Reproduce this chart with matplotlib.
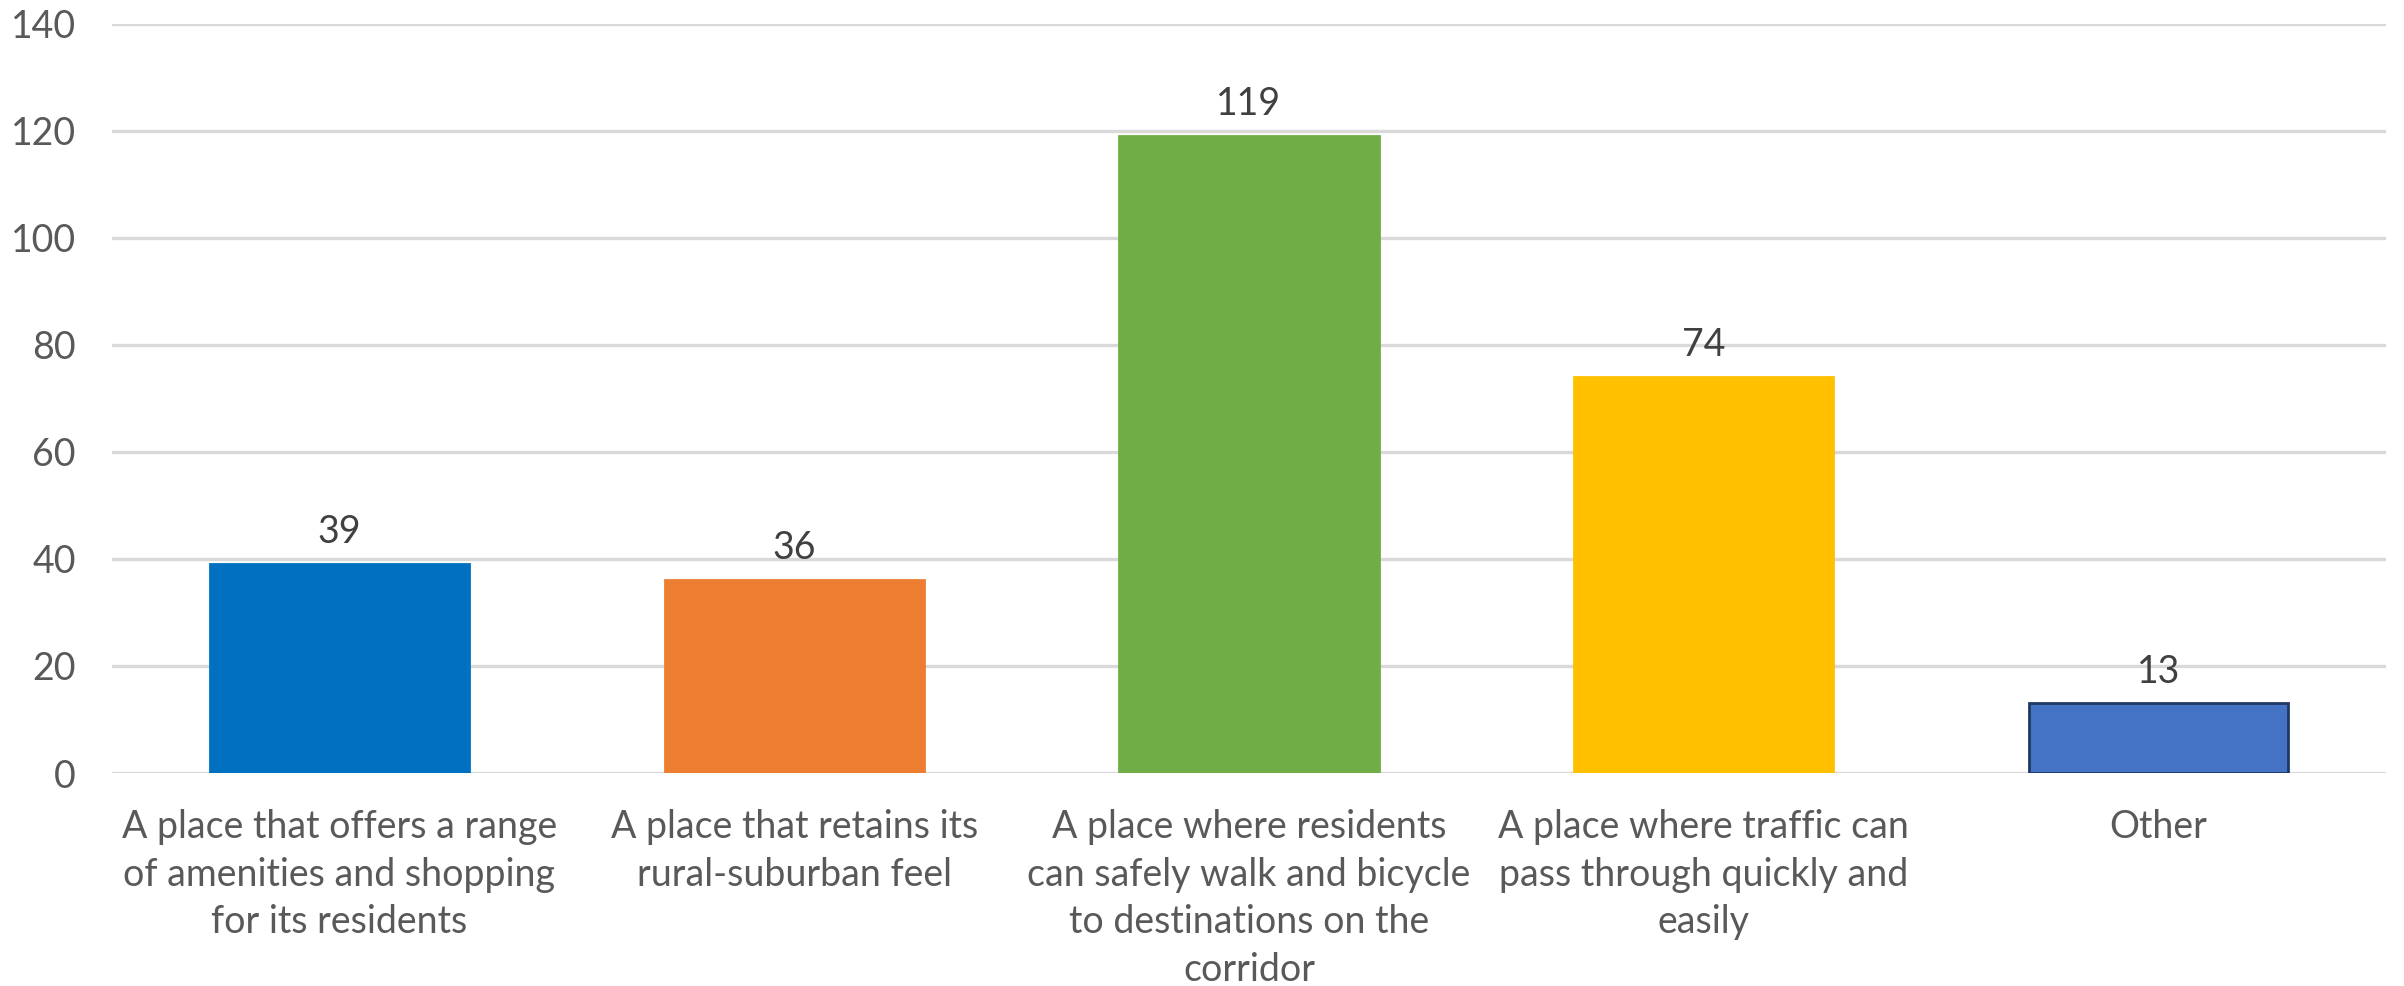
import matplotlib
matplotlib.use("Agg")
import matplotlib.pyplot as plt

categories = [
    "A place that offers a range\nof amenities and shopping\nfor its residents",
    "A place that retains its\nrural-suburban feel",
    "A place where residents\ncan safely walk and bicycle\nto destinations on the\ncorridor",
    "A place where traffic can\npass through quickly and\neasily",
    "Other",
]
values = [39, 36, 119, 74, 13]
colors = ["#0070C0", "#ED7D31", "#70AD47", "#FFC000", "#4472C4"]
edgecolors = ["#0070C0", "#ED7D31", "#70AD47", "#FFC000", "#203864"]
yticks = [0, 20, 40, 60, 80, 100, 120, 140]

plt.rcParams['font.family'] = ['Lato', 'DejaVu Sans']

fig = plt.figure(figsize=(12.02, 4.93), dpi=200)
ax = fig.add_axes([0.0466, 0.216, 0.9459, 0.760])

x = list(range(len(values)))
bars = ax.bar(x, values, width=0.57, color=colors, edgecolor=edgecolors, linewidth=1.0, zorder=3)
for xi, v in zip(x, values):
    ax.annotate(str(v), (xi, v), xytext=(0, 5), textcoords="offset points",
                ha="center", va="bottom", fontsize=13.5, color="#404040")

ax.set_xlim(-0.5, len(values) - 0.5)
ax.set_ylim(0, 140)
ax.set_yticks(yticks)
ax.set_yticklabels([str(t) for t in yticks])
ax.set_xticks(x)
ax.set_xticklabels(categories, fontsize=13.5, color="#595959", linespacing=1.4)
ax.tick_params(axis='y', labelsize=13.5, labelcolor="#595959", length=0, pad=13)
ax.tick_params(axis='x', length=0, pad=13)
ax.grid(axis='y', color="#D9D9D9", linewidth=1.2, zorder=0)
for s in ax.spines.values():
    s.set_visible(False)

fig.savefig("out.png", dpi=200)
